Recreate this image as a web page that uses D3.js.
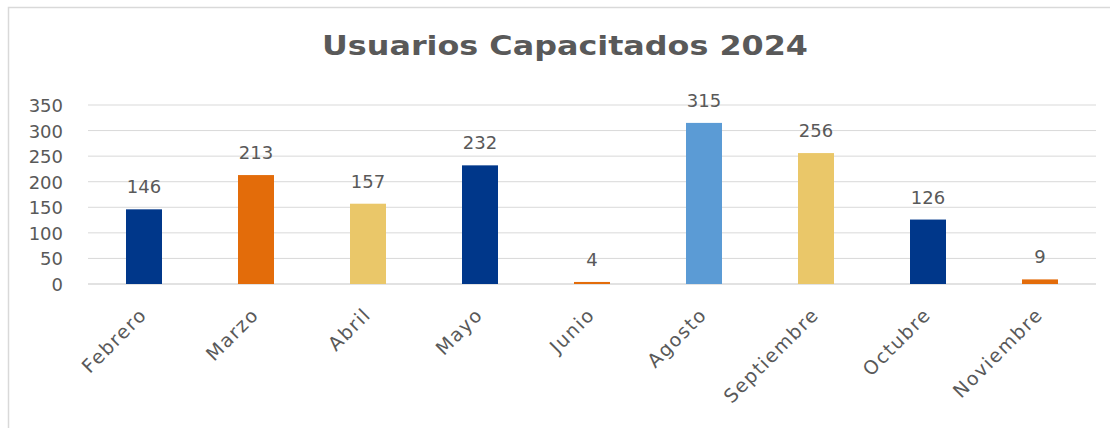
<!DOCTYPE html>
<html>
<head>
<meta charset="utf-8">
<script src="https://cdn.jsdelivr.net/npm/d3@7"></script>
<style>
  body { margin: 0; background: #fff; }
  text { font-family: "DejaVu Sans", sans-serif; fill: #595959; }
</style>
</head>
<body>
<div id="chart"></div>
<script>
// data
var months = ["Febrero", "Marzo", "Abril", "Mayo", "Junio", "Agosto", "Septiembre", "Octubre", "Noviembre"];
var users = [146, 213, 157, 232, 4, 315, 256, 126, 9];
var barColors = ["#00378A", "#E36C0A", "#EAC769", "#00378A", "#E36C0A", "#5B9BD5", "#EAC769", "#00378A", "#E36C0A"];
var yTicks = [0, 50, 100, 150, 200, 250, 300, 350];
var title = "Usuarios Capacitados 2024";

var W = 1110, H = 428;
var margin = {top: 105, right: 14, bottom: 144, left: 88};
var width = W - margin.left - margin.right,
    height = H - margin.top - margin.bottom;

var svg = d3.select("#chart")
  .append("svg")
    .attr("width", W)
    .attr("height", H);

// chart frame
svg.append("rect")
  .attr("x", 8.5).attr("y", 7.5)
  .attr("width", W + 20).attr("height", H + 20)
  .attr("fill", "none")
  .attr("stroke", "#d9d9d9")
  .attr("stroke-width", 1.5);

svg.append("text")
  .attr("x", 565).attr("y", 55)
  .attr("text-anchor", "middle")
  .style("font-size", "26px")
  .style("font-weight", "bold")
  .attr("textLength", 486)
  .attr("lengthAdjust", "spacingAndGlyphs")
  .text(title);

var g = svg.append("g")
  .attr("transform", "translate(" + margin.left + "," + margin.top + ")");

// 112px step, 36px bars
var x = d3.scaleBand()
  .domain(months)
  .range([0, width])
  .paddingInner(0.6786)
  .paddingOuter(0.3393);

var y = d3.scaleLinear()
  .domain([0, 350])
  .range([height, 0]);

// gridlines
g.append("g")
  .selectAll("line")
  .data(yTicks)
  .enter()
  .append("line")
    .attr("x1", 0).attr("x2", width)
    .attr("y1", function(d) { return y(d); })
    .attr("y2", function(d) { return y(d); })
    .attr("stroke", "#d9d9d9")
    .attr("stroke-width", function(d) { return d == 0 ? 1.5 : 1; });

// y axis labels
var yAxis = g.append("g")
  .attr("transform", "translate(-25,0)")
  .call(d3.axisLeft(y).tickValues(yTicks).tickSize(0).tickPadding(0));
yAxis.select(".domain").remove();
yAxis.selectAll("text")
  .style("font-size", "18px")
  .attr("dy", "0.36em");

// bars
g.append("g")
  .selectAll("rect")
  .data(users)
  .enter()
  .append("rect")
    .attr("x", function(d, i) { return x(months[i]); })
    .attr("y", function(d) { return y(d); })
    .attr("width", x.bandwidth())
    .attr("height", function(d) { return height - y(d); })
    .attr("fill", function(d, i) { return barColors[i]; });

// value labels
g.append("g")
  .selectAll("text")
  .data(users)
  .enter()
  .append("text")
    .attr("x", function(d, i) { return x(months[i]) + x.bandwidth() / 2; })
    .attr("y", function(d) { return y(d) - 16; })
    .attr("text-anchor", "middle")
    .style("font-size", "18px")
    .text(function(d) { return d; });

// x axis labels, rotated
var xAxis = g.append("g")
  .attr("transform", "translate(0," + height + ")")
  .call(d3.axisBottom(x).tickSize(0).tickPadding(0));
xAxis.select(".domain").remove();
xAxis.selectAll("text")
  .style("font-size", "19px")
  .style("letter-spacing", "1.5px")
  .attr("text-anchor", "end")
  .attr("dy", null)
  .attr("transform", "translate(4,32) rotate(-45)");
</script>
</body>
</html>
